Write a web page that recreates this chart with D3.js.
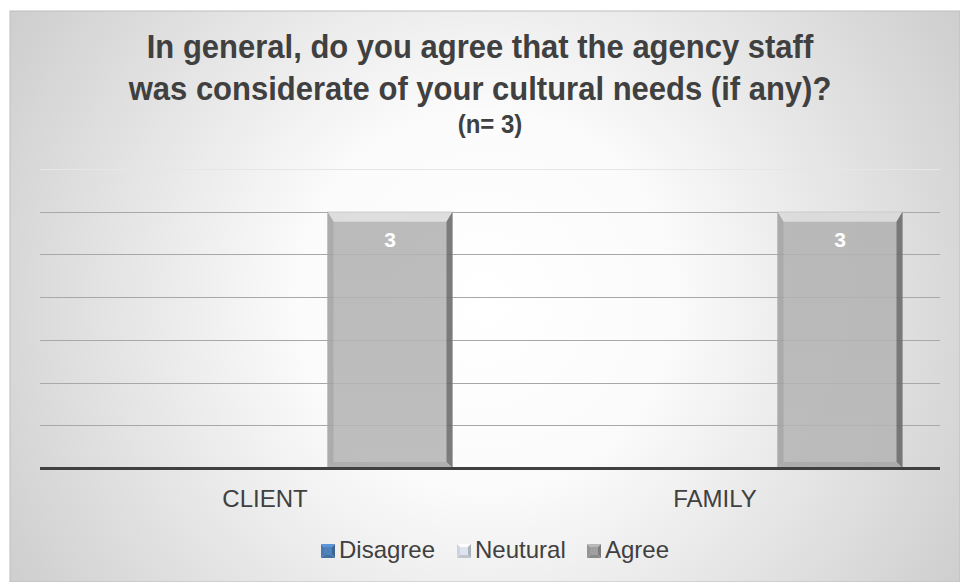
<!DOCTYPE html>
<html>
<head>
<meta charset="utf-8">
<script src="https://cdn.jsdelivr.net/npm/d3@7"></script>
<style>
  body { margin: 0; background: #fff; }
  svg { display: block; font-family: "Liberation Sans", Arial, sans-serif; }
</style>
</head>
<body>
<div id="chart"></div>
<script>
var width = 960,
    height = 582;

var categories = ["CLIENT", "FAMILY"];
var seriesNames = ["Disagree", "Neutural", "Agree"];
var disagree = [0, 0];
var neutral = [0, 0];
var agree = [3, 3];
var yTicks = [0, 0.5, 1, 1.5, 2, 2.5, 3, 3.5];

var titleLines = ["In general, do you agree that the agency staff",
                  "was considerate of your cultural needs (if any)?"];
var subtitle = "(n= 3)";

var seriesValues = [disagree, neutral, agree];
var seriesColors = ["#4f81bd", "#dde4ee", "#a0a0a0"];

var plot = {left: 40, right: 940, top: 169, bottom: 468};

var svg = d3.select("#chart").append("svg")
    .attr("width", width)
    .attr("height", height);

var defs = svg.append("defs");
var bg = defs.append("radialGradient")
    .attr("id", "bg")
    .attr("gradientUnits", "userSpaceOnUse")
    .attr("cx", 485).attr("cy", 300).attr("r", 620);
bg.append("stop").attr("offset", "0%").attr("stop-color", "#ffffff");
bg.append("stop").attr("offset", "30%").attr("stop-color", "#fbfbfb");
bg.append("stop").attr("offset", "100%").attr("stop-color", "#c6c6c6");

var barGrad = defs.append("linearGradient")
    .attr("id", "barFace")
    .attr("x1", 0).attr("x2", 0).attr("y1", 0).attr("y2", 1);
barGrad.append("stop").attr("offset", "0%").attr("stop-color", "#b2b2b2");
barGrad.append("stop").attr("offset", "100%").attr("stop-color", "#b6b6b6");

svg.append("rect")
    .attr("x", 10).attr("y", 11)
    .attr("width", width - 10).attr("height", height - 11)
    .attr("fill", "url(#bg)")
    .attr("stroke", "#bdbdbd")
    .attr("stroke-width", 1);

// title (text in the original is drawn a bit taller than wide)
svg.append("g").selectAll("text")
    .data(titleLines)
    .enter()
    .append("text")
    .attr("transform", function (d, i) { return "translate(480," + (58 + i * 42) + ") scale(1,1.1)"; })
    .attr("text-anchor", "middle")
    .attr("fill", "#404040")
    .attr("font-weight", "bold")
    .attr("font-size", 31)
    .text(function (d) { return d; });
svg.append("text")
    .attr("transform", "translate(490,133) scale(1,1.08)")
    .attr("text-anchor", "middle")
    .attr("fill", "#404040")
    .attr("font-weight", "bold")
    .attr("font-size", 24)
    .text(subtitle);

var x0 = d3.scaleBand()
    .domain(categories)
    .range([plot.left, plot.right])
    .paddingInner(1 / 6)
    .paddingOuter(1 / 12);

var x1 = d3.scaleBand()
    .domain(seriesNames)
    .range([0, x0.bandwidth()]);

var y = d3.scaleLinear()
    .domain([0, 3.5])
    .range([plot.bottom, plot.top]);

// gridlines
svg.append("g")
    .selectAll("line")
    .data(yTicks.slice(1))
    .enter()
    .append("line")
    .attr("x1", plot.left).attr("x2", plot.right)
    .attr("y1", function (d) { return Math.round(y(d)) + 0.5; })
    .attr("y2", function (d) { return Math.round(y(d)) + 0.5; })
    .attr("stroke", function (d) { return d === 3.5 ? "#e6e6e6" : "#a8a8a8"; })
    .attr("stroke-width", 1);

// bars
var bars = [];
categories.forEach(function (c, ci) {
    seriesNames.forEach(function (s, si) {
        bars.push({cat: c, series: s, value: seriesValues[si][ci]});
    });
});

var barG = svg.append("g").selectAll("g")
    .data(bars.filter(function (d) { return d.value > 0; }))
    .enter()
    .append("g")
    .attr("opacity", 0.88);

var bevT = 10, bevS = 6;
function edges(d) {
    var l = x0(d.cat) + x1(d.series);
    return {l: l, r: l + x1.bandwidth(), t: y(d.value), b: y(0)};
}
barG.append("rect")
    .attr("x", function (d) { return edges(d).l; })
    .attr("y", function (d) { return edges(d).t; })
    .attr("width", x1.bandwidth())
    .attr("height", function (d) { return y(0) - y(d.value); })
    .attr("fill", "url(#barFace)");

// bevel edges: top light, left mid, right dark, bottom mid
barG.append("path")
    .attr("fill", "#dadada")
    .attr("d", function (d) {
        var e = edges(d);
        return "M" + e.l + "," + e.t + "L" + e.r + "," + e.t + "L" + (e.r - bevS) + "," + (e.t + bevT) +
            "L" + (e.l + bevS) + "," + (e.t + bevT) + "Z";
    });
barG.append("path")
    .attr("fill", "#a2a2a2")
    .attr("d", function (d) {
        var e = edges(d);
        return "M" + e.l + "," + e.t + "L" + (e.l + bevS) + "," + (e.t + bevT) + "L" + (e.l + bevS) + "," + (e.b - bevS) +
            "L" + e.l + "," + e.b + "Z";
    });
barG.append("path")
    .attr("fill", "#6a6a6a")
    .attr("d", function (d) {
        var e = edges(d);
        return "M" + e.r + "," + e.t + "L" + (e.r - bevS) + "," + (e.t + bevT) + "L" + (e.r - bevS) + "," + (e.b - bevS) +
            "L" + e.r + "," + e.b + "Z";
    });
barG.append("path")
    .attr("fill", "#a6a6a6")
    .attr("d", function (d) {
        var e = edges(d);
        return "M" + e.l + "," + e.b + "L" + (e.l + bevS) + "," + (e.b - bevS) + "L" + (e.r - bevS) + "," + (e.b - bevS) +
            "L" + e.r + "," + e.b + "Z";
    });

// value labels
svg.append("g").selectAll("text")
    .data(bars.filter(function (d) { return d.value > 0; }))
    .enter()
    .append("text")
    .attr("x", function (d) { return x0(d.cat) + x1(d.series) + x1.bandwidth() / 2; })
    .attr("y", function (d) { return y(d.value) + 35; })
    .attr("text-anchor", "middle")
    .attr("fill", "#ffffff")
    .attr("font-weight", "bold")
    .attr("font-size", 21)
    .text(function (d) { return d.value; });

// zero axis line
svg.append("line")
    .attr("x1", plot.left).attr("x2", plot.right)
    .attr("y1", y(0) + 0.5).attr("y2", y(0) + 0.5)
    .attr("stroke", "#404040")
    .attr("stroke-width", 3);

// category axis
var xAxis = svg.append("g")
    .attr("transform", "translate(0," + plot.bottom + ")")
    .call(d3.axisBottom(x0).tickSize(0).tickPadding(0));
xAxis.select(".domain").remove();
xAxis.selectAll("text")
    .attr("dy", null)
    .attr("y", 39)
    .attr("font-size", 24)
    .attr("font-family", "Liberation Sans, Arial, sans-serif")
    .attr("fill", "#404040");

// legend
var legendX = [321, 457, 587];
var legend = svg.append("g").selectAll("g")
    .data(seriesNames)
    .enter()
    .append("g")
    .attr("transform", function (d, i) { return "translate(" + legendX[i] + ",544)"; });
legend.each(function (d, i) {
    var g = d3.select(this), s = 14, c = seriesColors[i];
    var shade = d3.color(c);
    g.append("path").attr("fill", shade.brighter(0.4)).attr("d", "M0,0L" + s + ",0L" + (s / 2) + "," + (s / 2) + "Z");
    g.append("path").attr("fill", shade.darker(0.2)).attr("d", "M0,0L" + (s / 2) + "," + (s / 2) + "L0," + s + "Z");
    g.append("path").attr("fill", shade.darker(0.7)).attr("d", "M" + s + ",0L" + s + "," + s + "L" + (s / 2) + "," + (s / 2) + "Z");
    g.append("path").attr("fill", shade.darker(0.4)).attr("d", "M0," + s + "L" + s + "," + s + "L" + (s / 2) + "," + (s / 2) + "Z");
    g.append("rect").attr("x", 3).attr("y", 3).attr("width", s - 6).attr("height", s - 6).attr("fill", c);
    g.append("text")
        .attr("x", s + 4).attr("y", 14)
        .attr("font-size", 24)
        .attr("fill", "#404040")
        .text(d);
});
</script>
</body>
</html>
